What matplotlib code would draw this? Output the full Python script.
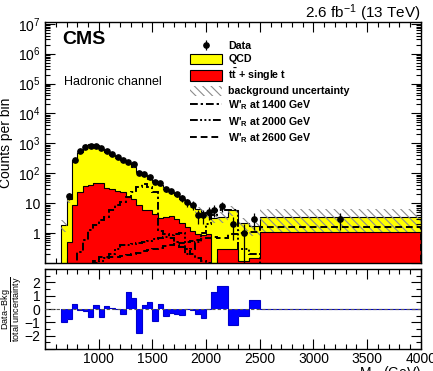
import numpy as np
import matplotlib
matplotlib.use("Agg")
import matplotlib.pyplot as plt
from matplotlib.ticker import LogLocator, MultipleLocator, FuncFormatter, NullFormatter
from matplotlib.lines import Line2D
from matplotlib.patches import Patch

plt.rcParams['font.family'] = ['Liberation Sans', 'DejaVu Sans']
plt.rcParams['mathtext.fontset'] = 'custom'
plt.rcParams['mathtext.rm'] = 'Liberation Sans'
plt.rcParams['mathtext.bf'] = 'Liberation Sans:bold'
plt.rcParams['mathtext.it'] = 'Liberation Sans:italic'
plt.rcParams['hatch.color'] = '#8c8c8c'
plt.rcParams['hatch.linewidth'] = 0.8

# bin edges (GeV): 50 GeV bins up to 2100, then 100 GeV, then one wide bin
edges = list(range(650, 2101, 50)) + [2200, 2300, 2400, 2500, 4000]

data = [0, 17, 270, 550, 755, 835, 835, 700, 550, 455, 350, 285, 240, 200,
        105, 98, 75, 50, 47, 30, 25, 20, 15, 11, 9, 4, 4, 5, 6,
        8, 2, 1, 3, 3]

# total background (QCD + top), top of the yellow stack
total = [1.9, 13.5, 270, 510, 850, 930, 850, 665, 510, 400, 330, 270, 220, 162,
         110, 85, 66, 51, 40, 31, 24, 18.5, 14, 11, 8.6, 6.2, 5.1, 4.0, 3.2,
         3.5, 5.8, 2.2, 1.7, 3.5]

# ttbar + single top
top = [0.0, 0.5, 9, 24, 38, 40, 48, 48, 33, 30, 26, 24, 16, 14,
       8.6, 5.8, 5.8, 4.5, 3.3, 3.5, 3.8, 3.0, 2.2, 1.6, 1.2, 0.9, 0.85, 0.9, 0.1,
       0.3, 0.3, 0.12, 0.15, 1.1]

bkg_unc = [0.8, 3, 25, 45, 70, 75, 65, 50, 40, 32, 27, 22, 18, 14,
           10, 8, 7, 6, 5, 4.2, 3.5, 3, 2.5, 2.1, 1.8, 1.5, 1.3, 1.1, 1.0,
           1.4, 2.0, 1.0, 0.9, 2.8]

wp1400 = [0.02, 0.05, 0.08, 0.24, 0.6, 1.25, 1.85, 2.7, 3.5, 5.8, 8.6, 11, 16, 24,
          35, 43, 35, 24, 1.2, 0.9, 0.7, 0.5, 0.35, 0.3, 0.2, 0.15, 0.12, 0.1, 0.08,
          0.06, 0.05, 0.04, 0.03, 0.05]

wp2000 = [0.01, 0.02, 0.03, 0.05, 0.06, 0.08, 0.1, 0.12, 0.15, 0.2, 0.3, 0.4, 0.4, 0.42,
          0.45, 0.5, 0.55, 0.62, 0.7, 0.75, 0.85, 0.95, 1.0, 0.2, 0.3, 0.5, 1.0, 2.0, 4.0,
          5.8, 5.8, 0.3, 0.2, 0.05]

wp2600 = [0.005, 0.01, 0.02, 0.03, 0.05, 0.08, 0.12, 0.16, 0.16, 0.16, 0.16, 0.17, 0.18, 0.2,
          0.22, 0.25, 0.28, 0.3, 0.33, 0.36, 0.4, 0.43, 0.46, 0.5, 0.55, 0.6, 0.65, 0.7, 0.75,
          0.7, 0.9, 1.0, 1.1, 1.6]

pulls = [-0.95, -0.75, 0.4, -0.05, -0.15, -0.6, 0.3, -0.6, 0.2, 0.05, 0.0, -0.4, 1.3, 0.8,
         -1.8, 0.3, 0.5, -0.9, 0.4, -0.5, -0.3, -0.35, -0.45, 0.0, -0.05, -0.4, -0.7, 0.0, 1.3,
         1.7, -1.2, -0.55, 0.7, 0.0]

edges = np.array(edges, dtype=float)
centers = 0.5 * (edges[:-1] + edges[1:])
data = np.array(data, dtype=float)
total = np.array(total)
top = np.array(top)
bkg_unc = np.array(bkg_unc)

fig = plt.figure(figsize=(4.33, 3.71), dpi=100)
ax = fig.add_axes([0.104, 0.291, 0.868, 0.650])
rax = fig.add_axes([0.104, 0.059, 0.868, 0.216])

base = 1e-3
ax.stairs(total, edges, baseline=base, fill=True, color='#ffff00', zorder=1)
ax.stairs(total, edges, baseline=base, color='black', lw=0.8, zorder=1.1)

# background uncertainty band
lo = np.clip(total - bkg_unc, base, None)
hi = total + bkg_unc
ax.fill_between(edges, np.append(lo, lo[-1]), np.append(hi, hi[-1]), step='post',
                facecolor='none', edgecolor='#8c8c8c', hatch='\\\\\\\\', linewidth=0, zorder=1.5)

ax.stairs(top, edges, baseline=base, fill=True, color='#ff0000', zorder=2)
ax.stairs(top, edges, baseline=base, color='black', lw=0.8, zorder=2.1)

ls1400 = (0, (4, 1.5, 1.2, 1.5))
ls2000 = (0, (4, 1.2, 1, 1.2, 1, 1.2, 1, 1.2))
ls2600 = (0, (3.5, 2))
ax.stairs(wp1400, edges, color='black', lw=1.4, linestyle=ls1400, zorder=3)
ax.stairs(wp2000, edges, color='black', lw=1.4, linestyle=ls2000, zorder=3)
ax.stairs(wp2600, edges, color='black', lw=1.4, linestyle=ls2600, zorder=3)

m = data > 0
eb = ax.errorbar(centers[m], data[m], yerr=np.sqrt(data[m]), fmt='o', color='black',
                 ms=3.8, elinewidth=0.9, capsize=0, zorder=4)

ax.set_yscale('log')
ax.set_ylim(0.1, 1.15e7)
ax.set_xlim(500, 4000)
ax.yaxis.set_major_locator(LogLocator(base=10, numticks=12))
ax.yaxis.set_minor_locator(LogLocator(base=10, subs=np.arange(2, 10), numticks=12))
ax.yaxis.set_minor_formatter(NullFormatter())


def ylab(v, pos):
    if v < 0.5:
        return ''
    if abs(v - 1) < 1e-6:
        return '1'
    if abs(v - 10) < 1e-6:
        return '10'
    return r'$10^{%d}$' % int(round(np.log10(v)))


ax.yaxis.set_major_formatter(FuncFormatter(ylab))
ax.xaxis.set_major_locator(MultipleLocator(500))
ax.xaxis.set_minor_locator(MultipleLocator(100))
ax.tick_params(axis='x', labelbottom=False)
for a in (ax, rax):
    a.tick_params(which='both', direction='in', top=True, right=True, labelsize=10)
    a.tick_params(which='major', length=7, width=0.8)
    a.tick_params(which='minor', length=3.5, width=0.8)
    for s in a.spines.values():
        s.set_linewidth(1.0)
rax.tick_params(axis='x', which='major', pad=2)
ax.set_ylabel('Counts per bin', fontsize=10)
ax.yaxis.set_label_coords(-0.085, 0.5)

ax.text(0.045, 0.925, 'CMS', transform=ax.transAxes, fontsize=14, fontweight='bold', va='center')
ax.text(0.05, 0.751, 'Hadronic channel', transform=ax.transAxes, fontsize=9, va='center')
fig.text(0.972, 0.965, r'2.6 fb$^{-1}$ (13 TeV)', ha='right', va='center', fontsize=11)

handles = [eb,
           Patch(facecolor='#ffff00', edgecolor='black', lw=0.8),
           Patch(facecolor='#ff0000', edgecolor='black', lw=0.8),
           Patch(facecolor='none', edgecolor='#8c8c8c', hatch='\\\\\\\\', lw=0),
           Line2D([], [], color='black', lw=1.4, linestyle=ls1400),
           Line2D([], [], color='black', lw=1.4, linestyle=ls2000),
           Line2D([], [], color='black', lw=1.4, linestyle=ls2600)]
labels = ['Data', 'QCD', r'$\mathbf{t\bar{t}}$ + single t', 'background uncertainty',
          r"W'$_{\mathbf{R}}$ at 1400 GeV", r"W'$_{\mathbf{R}}$ at 2000 GeV",
          r"W'$_{\mathbf{R}}$ at 2600 GeV"]
ax.legend(handles, labels, loc='upper left', bbox_to_anchor=(0.426, 0.905),
          bbox_transform=fig.transFigure, frameon=False,
          prop={'weight': 'bold', 'size': 7.7}, handlelength=3.0, handleheight=1.1,
          handletextpad=0.6, labelspacing=0.22, borderpad=0)

# lower panel
rax.stairs(pulls, edges, baseline=0, fill=True, color='#0000ff', zorder=2)
rax.stairs(pulls, edges, baseline=0, color='#0000cc', lw=0.8, zorder=2.1)
rax.axhline(0, color='#555555', lw=0.8, ls=(0, (3, 2)), zorder=3)
rax.set_xlim(500, 4000)
rax.set_ylim(-3, 3)
rax.yaxis.set_major_locator(MultipleLocator(1))
rax.yaxis.set_minor_locator(MultipleLocator(0.5))
rax.yaxis.set_major_formatter(FuncFormatter(lambda v, p: '' if abs(v) > 2.5 else '%d' % v if v >= 0 else '\u2212%d' % -v))
rax.xaxis.set_major_locator(MultipleLocator(500))
rax.xaxis.set_minor_locator(MultipleLocator(100))
rax.xaxis.set_major_formatter(FuncFormatter(lambda v, p: '' if v < 1000 else '%d' % v))
rax.set_ylabel(r'$\dfrac{\mathrm{Data\!-\!Bkg}}{\mathrm{total\ uncertainty}}$', fontsize=6.5)
rax.yaxis.set_label_coords(-0.057, 0.5)

fig.text(0.972, 0.019, r'M$_{\mathrm{tb}}$ (GeV)', ha='right', va='top', fontsize=10)

fig.savefig('out.png', dpi=100)
